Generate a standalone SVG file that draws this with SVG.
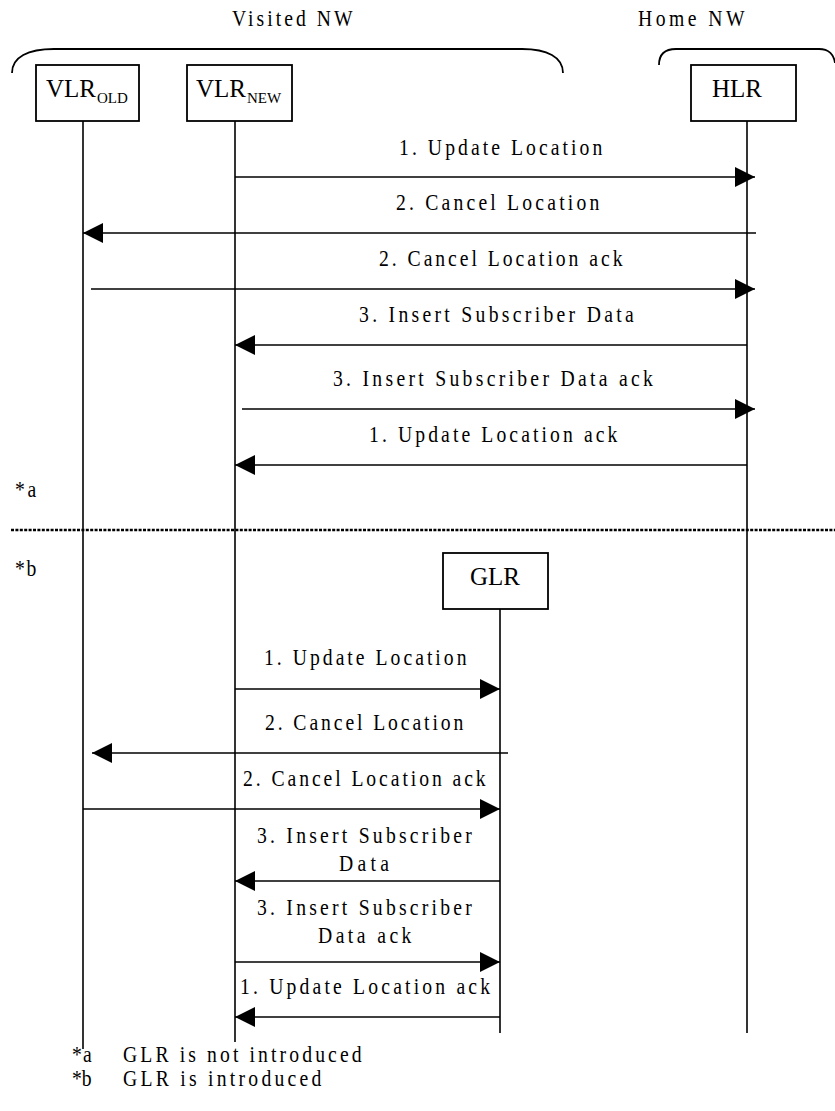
<svg xmlns="http://www.w3.org/2000/svg" width="835" height="1111" viewBox="0 0 835 1111">
  <style>
    .box { fill: #fff; stroke: #000; stroke-width: 1.8; }
    .life { stroke: #000; stroke-width: 1.6; fill: none; }
    .brace { stroke: #000; stroke-width: 1.8; fill: none; }
    .msg { stroke: #000; stroke-width: 1.6; fill: none; marker-end: url(#ah); }
    .t { font-family: "Liberation Serif", "Times New Roman", serif; font-size: 24px; fill: #000; letter-spacing: 4px; }
    .node { font-family: "Liberation Serif", "Times New Roman", serif; font-size: 25px; fill: #000; }
    .sub { font-size: 15px; }
    .sep { stroke: #000; stroke-width: 2.6; stroke-dasharray: 3 1.4; fill: none; }
  </style>
  <defs>
    <marker id="ah" markerUnits="userSpaceOnUse" markerWidth="20" markerHeight="20" refX="20" refY="10" orient="auto" viewBox="0 0 20 20">
      <path d="M0,0 L20,10 L0,20 z" fill="#000"/>
    </marker>
  </defs>
  <rect width="835" height="1111" fill="#fff"/>

  <g id="domains">
    <text class="t" transform="translate(232 26) scale(0.82 1)" textLength="151" lengthAdjust="spacing">Visited NW</text>
    <text class="t" transform="translate(638 26) scale(0.82 1)" textLength="134" lengthAdjust="spacing">Home NW</text>
    <path class="brace" d="M12,73 C12,57 28,49 54,49 L522,49 C547,49 563,57 563,73"/>
    <path class="brace" d="M659,65 C659,55 664,49 676,49 L819,49 C829,49 834,55 835,63"/>
  </g>

  <g id="vlr-old">
    <rect class="box" x="36" y="65" width="103" height="56"/>
    <line class="life" x1="83" y1="121" x2="83" y2="1049"/>
    <text class="node" x="46" y="97">VLR<tspan class="sub" x="97" y="103">OLD</tspan></text>
  </g>
  <g id="vlr-new">
    <rect class="box" x="187" y="65" width="105" height="56"/>
    <line class="life" x1="235" y1="121" x2="235" y2="1042"/>
    <text class="node" x="196" y="97">VLR<tspan class="sub" x="247" y="103">NEW</tspan></text>
  </g>
  <g id="hlr">
    <rect class="box" x="691" y="65" width="105" height="56"/>
    <line class="life" x1="747" y1="121" x2="747" y2="1033"/>
    <text class="node" x="737" y="97" text-anchor="middle">HLR</text>
  </g>
  <g id="glr">
    <rect class="box" x="443" y="553" width="105" height="56"/>
    <line class="life" x1="500" y1="609" x2="500" y2="1033"/>
    <text class="node" x="495" y="585" text-anchor="middle">GLR</text>
  </g>

  <g id="separator">
    <line class="sep" x1="11" y1="530" x2="835" y2="530"/>
    <text class="t" transform="translate(15 497) scale(0.82 1)" textLength="30" lengthAdjust="spacing">*a</text>
    <text class="t" transform="translate(15 576) scale(0.82 1)" textLength="30" lengthAdjust="spacing">*b</text>
  </g>

  <g id="connectors">
    <line class="msg" x1="235" y1="177" x2="755" y2="177"/>
    <line class="msg" x1="756" y1="233" x2="83" y2="233"/>
    <line class="msg" x1="91" y1="289" x2="755" y2="289"/>
    <line class="msg" x1="747" y1="345" x2="235" y2="345"/>
    <line class="msg" x1="242" y1="409" x2="755" y2="409"/>
    <line class="msg" x1="747" y1="465" x2="235" y2="465"/>

    <line class="msg" x1="235" y1="689" x2="500" y2="689"/>
    <line class="msg" x1="508" y1="753" x2="92" y2="753"/>
    <line class="msg" x1="83" y1="809" x2="500" y2="809"/>
    <line class="msg" x1="500" y1="881" x2="235" y2="881"/>
    <line class="msg" x1="235" y1="962" x2="500" y2="962"/>
    <line class="msg" x1="500" y1="1017" x2="235" y2="1017"/>
  </g>

  <g id="labels">
    <text class="t" transform="translate(399 155) scale(0.82 1)" textLength="252" lengthAdjust="spacing">1. Update Location</text>
    <text class="t" transform="translate(396 210) scale(0.82 1)" textLength="252" lengthAdjust="spacing">2. Cancel Location</text>
    <text class="t" transform="translate(379 266) scale(0.82 1)" textLength="301" lengthAdjust="spacing">2. Cancel Location ack</text>
    <text class="t" transform="translate(359 322) scale(0.82 1)" textLength="339" lengthAdjust="spacing">3. Insert Subscriber Data</text>
    <text class="t" transform="translate(333 386) scale(0.82 1)" textLength="394" lengthAdjust="spacing">3. Insert Subscriber Data ack</text>
    <text class="t" transform="translate(369 442) scale(0.82 1)" textLength="307" lengthAdjust="spacing">1. Update Location ack</text>

    <text class="t" transform="translate(264 665) scale(0.82 1)" textLength="251" lengthAdjust="spacing">1. Update Location</text>
    <text class="t" transform="translate(265 730) scale(0.82 1)" textLength="246" lengthAdjust="spacing">2. Cancel Location</text>
    <text class="t" transform="translate(243 786) scale(0.82 1)" textLength="300" lengthAdjust="spacing">2. Cancel Location ack</text>
    <text class="t" transform="translate(257 843) scale(0.82 1)" textLength="266" lengthAdjust="spacing">3. Insert Subscriber</text>
    <text class="t" transform="translate(339 871) scale(0.82 1)" textLength="65" lengthAdjust="spacing">Data</text>
    <text class="t" transform="translate(257 915) scale(0.82 1)" textLength="266" lengthAdjust="spacing">3. Insert Subscriber</text>
    <text class="t" transform="translate(318 943) scale(0.82 1)" textLength="118" lengthAdjust="spacing">Data ack</text>
    <text class="t" transform="translate(240 994) scale(0.82 1)" textLength="309" lengthAdjust="spacing">1. Update Location ack</text>
  </g>

  <g id="footnotes">
    <text class="t" transform="translate(72 1062) scale(0.82 1)" textLength="28" lengthAdjust="spacing">*a</text>
    <text class="t" transform="translate(123 1062) scale(0.82 1)" textLength="295" lengthAdjust="spacing">GLR is not introduced</text>
    <text class="t" transform="translate(72 1086) scale(0.82 1)" textLength="28" lengthAdjust="spacing">*b</text>
    <text class="t" transform="translate(123 1086) scale(0.82 1)" textLength="246" lengthAdjust="spacing">GLR is introduced</text>
  </g>
</svg>
